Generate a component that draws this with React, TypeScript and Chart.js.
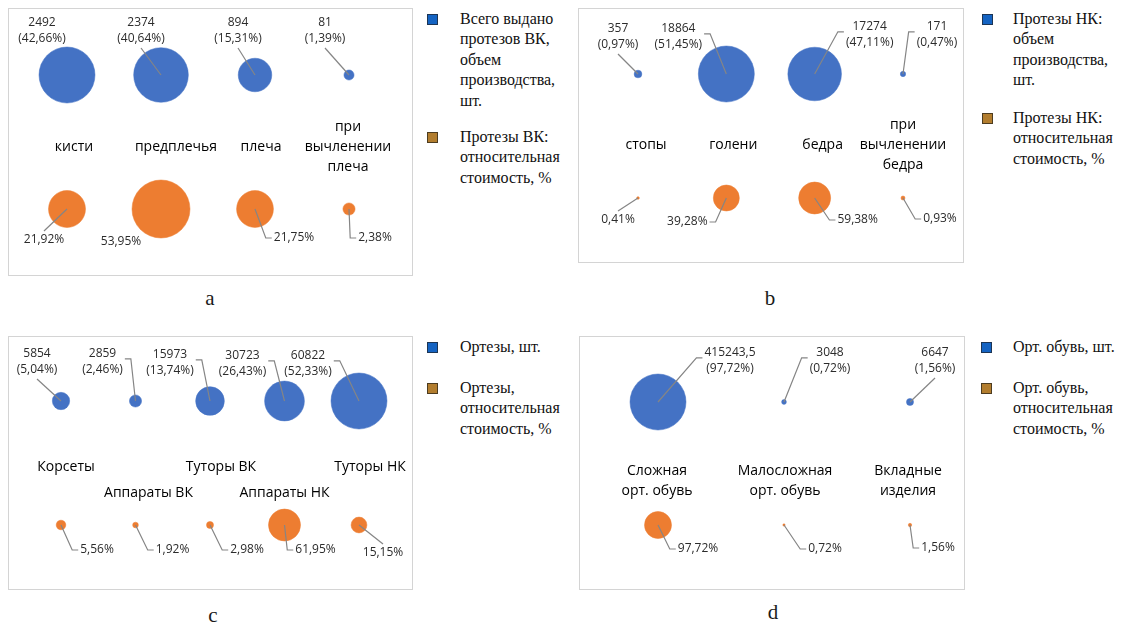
import React, { useEffect, useRef } from "react";
import { Chart, registerables } from "chart.js";
Chart.register(...registerables);

// ---------- DATA ----------
// a: upper-limb prostheses
const catsA = ["кисти", "предплечья", "плеча", "при\nвычленении\nплеча"];
const countA = [2492, 2374, 894, 81];
const countPctA = [42.66, 40.64, 15.31, 1.39];
const costA = [21.92, 53.95, 21.75, 2.38];
const legendA = ["Всего выдано\nпротезов ВК,\nобъем\nпроизводства,\nшт.", "Протезы ВК:\nотносительная\nстоимость, %"];

// b: lower-limb prostheses
const catsB = ["стопы", "голени", "бедра", "при\nвычленении\nбедра"];
const countB = [357, 18864, 17274, 171];
const countPctB = [0.97, 51.45, 47.11, 0.47];
const costB = [0.41, 39.28, 59.38, 0.93];
const legendB = ["Протезы НК:\nобъем\nпроизводства,\nшт.", "Протезы НК:\nотносительная\nстоимость, %"];

// c: orthoses
const catsC = ["Корсеты", "Аппараты ВК", "Туторы ВК", "Аппараты НК", "Туторы НК"];
const countC = [5854, 2859, 15973, 30723, 60822];
const countPctC = [5.04, 2.46, 13.74, 26.43, 52.33];
const costC = [5.56, 1.92, 2.98, 61.95, 15.15];
const legendC = ["Ортезы, шт.", "Ортезы,\nотносительная\nстоимость, %"];

// d: orthopedic footwear
const catsD = ["Сложная\nорт. обувь", "Малосложная\nорт. обувь", "Вкладные\nизделия"];
const countD = [415243.5, 3048, 6647];
const countPctD = [97.72, 0.72, 1.56];
const costD = [97.72, 0.72, 1.56];
const legendD = ["Орт. обувь, шт.", "Орт. обувь,\nотносительная\nстоимость, %"];

const captions = ["a", "b", "c", "d"];

// ---------- STYLE / LAYOUT ----------
const BLUE = "#4472C4";
const ORANGE = "#ED7D31";
const LABEL_FONT = "12px 'Open Sans', 'DejaVu Sans', sans-serif";
const CAT_FONT = "14px 'Open Sans', 'DejaVu Sans', sans-serif";

type Panel = {
  cats: string[]; count: number[]; pct: number[]; cost: number[]; legend: string[]; caption: string;
  box: { x: number; y: number; w: number; h: number };
  xFirst: number; step: number; rowTop: number; rowBottom: number;
  blueMaxR: number; orMaxR: number; catY: number; catDx: number[]; stagger: number;
  blueOff: number[][]; orOff: number[][]; blueLeader: boolean[]; orLeader: boolean[];
  legendMarkX: number; legendTextX: number; legendY: number[];
  capX: number; capY: number;
};

const panels: Panel[] = [
  {
    cats: catsA, count: countA, pct: countPctA, cost: costA, legend: legendA, caption: captions[0],
    box: { x: 8, y: 8, w: 405, h: 268 }, xFirst: 59, step: 94, rowTop: 67, rowBottom: 201,
    blueMaxR: 28, orMaxR: 29, catY: 139, catDx: [7, 15, 6, -1], stagger: 0,
    blueOff: [[-25, -44], [-20, -44], [-17, -44], [-24, -44]],
    orOff: [[-23, 31], [-40, 33], [39, 29], [26, 29]],
    blueLeader: [false, true, true, true], orLeader: [true, false, true, true],
    legendMarkX: 427, legendTextX: 460, legendY: [19, 137], capX: 210, capY: 298,
  },
  {
    cats: catsB, count: countB, pct: countPctB, cost: costB, legend: legendB, caption: captions[1],
    box: { x: 578, y: 8, w: 386, h: 255 }, xFirst: 60, step: 88.33, rowTop: 66, rowBottom: 190,
    blueMaxR: 28, orMaxR: 16, catY: 137, catDx: [8, 7, 8, 0], stagger: 0,
    blueOff: [[-20, -37], [-48, -37], [55, -39], [34, -39]],
    orOff: [[-20, 22], [-39, 24], [43, 22], [37, 21]],
    blueLeader: [true, true, true, true], orLeader: [true, true, true, true],
    legendMarkX: 982, legendTextX: 1013, legendY: [19, 118], capX: 770, capY: 298,
  },
  {
    cats: catsC, count: countC, pct: countPctC, cost: costC, legend: legendC, caption: captions[2],
    box: { x: 8, y: 336, w: 405, h: 254 }, xFirst: 53, step: 74.5, rowTop: 65, rowBottom: 189,
    blueMaxR: 28, orMaxR: 16, catY: 131, catDx: [5, 13, 11, 0, 11], stagger: 26,
    blueOff: [[-24, -39], [-33, -39], [-40, -38], [-42, -37], [-51, -37]],
    orOff: [[36, 25], [37, 25], [37, 25], [31, 25], [24, 28]],
    blueLeader: [true, true, true, true, true], orLeader: [true, true, true, true, true],
    legendMarkX: 427, legendTextX: 460, legendY: [347, 388], capX: 213, capY: 615,
  },
  {
    cats: catsD, count: countD, pct: countPctD, cost: costD, legend: legendD, caption: captions[3],
    box: { x: 579, y: 336, w: 386, h: 254 }, xFirst: 79, step: 126, rowTop: 66, rowBottom: 189,
    blueMaxR: 28, orMaxR: 13.5, catY: 145, catDx: [-1, 1, -2], stagger: 0,
    blueOff: [[72, -41], [46, -41], [25, -41]],
    orOff: [[40, 24], [41, 24], [28, 23]],
    blueLeader: [true, true, true], orLeader: [true, true, true],
    legendMarkX: 981, legendTextX: 1013, legendY: [347, 388], capX: 773, capY: 612,
  },
];

const fmtPct = (v: number) => v.toFixed(2).replace(".", ",");
const fmtNum = (v: number) => String(v).replace(".", ",");

function drawLabel(
  ctx: CanvasRenderingContext2D, lines: string[], cx: number, cy: number,
  bx: number, by: number, leader: boolean, above: boolean
) {
  const lh = 16;
  ctx.font = LABEL_FONT;
  const w = Math.max(...lines.map((l) => ctx.measureText(l).width));
  const h = lines.length * lh;
  const left = cx - w / 2, right = cx + w / 2, top = cy - h / 2, bottom = cy + h / 2;
  if (leader) {
    const tol = 6;
    let pts: number[][];
    const ay = above ? top + h * 0.4 : cy;
    if (bx > right + tol) pts = [[right + 2, ay], [right + 8, ay], [bx, by]];
    else if (bx < left - tol) pts = [[left - 2, ay], [left - 8, ay], [bx, by]];
    else if (above) pts = [[cx, bottom + 1], [bx, by]];
    else pts = [[cx, top - 1], [bx, by]];
    ctx.save();
    ctx.strokeStyle = "#858585";
    ctx.lineWidth = 1.2;
    ctx.beginPath();
    ctx.moveTo(pts[0][0], pts[0][1]);
    for (let i = 1; i < pts.length; i++) ctx.lineTo(pts[i][0], pts[i][1]);
    ctx.stroke();
    ctx.restore();
  }
  ctx.fillStyle = "#2b2b2b";
  ctx.textAlign = "center";
  ctx.textBaseline = "middle";
  lines.forEach((l, i) => ctx.fillText(l, cx, top + lh / 2 + i * lh));
}

function PanelChart({ p }: { p: Panel }) {
  const ref = useRef<HTMLCanvasElement>(null);
  useEffect(() => {
    if (!ref.current) return;
    const { w: W, h: H } = p.box;
    const xmin = 1 - p.xFirst / p.step;
    const xmax = xmin + W / p.step;
    const u = (p.rowBottom - p.rowTop) / 2;
    const ymax = 2 + p.rowTop / u;
    const ymin = ymax - H / u;
    const maxC = Math.max(...p.count);
    const maxO = Math.max(...p.cost);

    const plugin = {
      id: "bubbleLabels",
      afterDatasetsDraw(chart: any) {
        const ctx: CanvasRenderingContext2D = chart.ctx;
        const mb = chart.getDatasetMeta(0).data;
        const mo = chart.getDatasetMeta(1).data;
        ctx.save();
        // category labels
        ctx.font = CAT_FONT;
        ctx.fillStyle = "#000000";
        ctx.textAlign = "center";
        ctx.textBaseline = "middle";
        p.cats.forEach((c, i) => {
          const lines = c.split("\n");
          const lh = 20;
          const cy = p.catY + (i % 2 === 1 ? p.stagger : 0);
          const x = mb[i].x + p.catDx[i];
          lines.forEach((l, k) => ctx.fillText(l, x, cy - ((lines.length - 1) * lh) / 2 + k * lh));
        });
        // value labels
        p.count.forEach((v, i) => {
          const el = mb[i];
          drawLabel(ctx, [fmtNum(v), "(" + fmtPct(p.pct[i]) + "%)"], el.x + p.blueOff[i][0], el.y + p.blueOff[i][1], el.x, el.y, p.blueLeader[i], true);
        });
        p.cost.forEach((v, i) => {
          const el = mo[i];
          drawLabel(ctx, [fmtPct(v) + "%"], el.x + p.orOff[i][0], el.y + p.orOff[i][1], el.x, el.y, p.orLeader[i], false);
        });
        ctx.restore();
      },
    };

    const chart = new Chart(ref.current, {
      type: "bubble",
      data: {
        datasets: [
          {
            label: p.legend[0],
            data: p.count.map((v, i) => ({ x: i + 1, y: 2, r: p.blueMaxR * Math.sqrt(v / maxC) })),
            backgroundColor: BLUE,
            borderColor: BLUE,
            borderWidth: 0.5,
          },
          {
            label: p.legend[1],
            data: p.cost.map((v, i) => ({ x: i + 1, y: 0, r: p.orMaxR * Math.sqrt(v / maxO) })),
            backgroundColor: ORANGE,
            borderColor: ORANGE,
            borderWidth: 0.5,
          },
        ],
      },
      options: {
        animation: false,
        responsive: false,
        devicePixelRatio: 1,
        layout: { padding: 0, autoPadding: false },
        clip: false as any,
        scales: {
          x: { type: "linear", min: xmin, max: xmax, display: false },
          y: { type: "linear", min: ymin, max: ymax, display: false },
        },
        plugins: { legend: { display: false }, tooltip: { enabled: false } },
        events: [],
      },
      plugins: [plugin],
    });
    return () => chart.destroy();
  }, [p]);

  return (
    <>
      <canvas
        ref={ref}
        width={p.box.w}
        height={p.box.h}
        style={{ position: "absolute", left: p.box.x, top: p.box.y, width: p.box.w, height: p.box.h }}
      />
      <div
        style={{
          position: "absolute", left: p.box.x, top: p.box.y, width: p.box.w, height: p.box.h,
          border: "1.5px solid #d4d4d4", boxSizing: "border-box", pointerEvents: "none",
        }}
      />
      {p.legend.map((t, i) => (
        <React.Fragment key={i}>
          <div
            style={{
              position: "absolute", left: p.legendMarkX, top: p.legendY[i] - 5.5, width: 9, height: 9,
              background: i === 0 ? "#1463c2" : "#b27d2e",
              border: "1px solid " + (i === 0 ? "#1c3555" : "#4d3c20"),
            }}
          />
          <div
            style={{
              position: "absolute", left: p.legendTextX, top: p.legendY[i] - 10.25,
              fontFamily: "'Liberation Serif', 'DejaVu Serif', serif", fontSize: 16, lineHeight: "20.5px",
              color: "#111111", whiteSpace: "pre",
            }}
          >
            {t}
          </div>
        </React.Fragment>
      ))}
      <div
        style={{
          position: "absolute", left: p.capX - 20, top: p.capY - 13, width: 40, textAlign: "center",
          fontFamily: "'Liberation Serif', 'DejaVu Serif', serif", fontSize: 21, lineHeight: "26px", color: "#1a1a1a",
        }}
      >
        {p.caption}
      </div>
    </>
  );
}

export default function App() {
  return (
    <div style={{ position: "absolute", left: 0, top: 0, width: 1123, height: 630, background: "#fff", overflow: "hidden" }}>
      {panels.map((p, i) => (
        <PanelChart key={i} p={p} />
      ))}
    </div>
  );
}
